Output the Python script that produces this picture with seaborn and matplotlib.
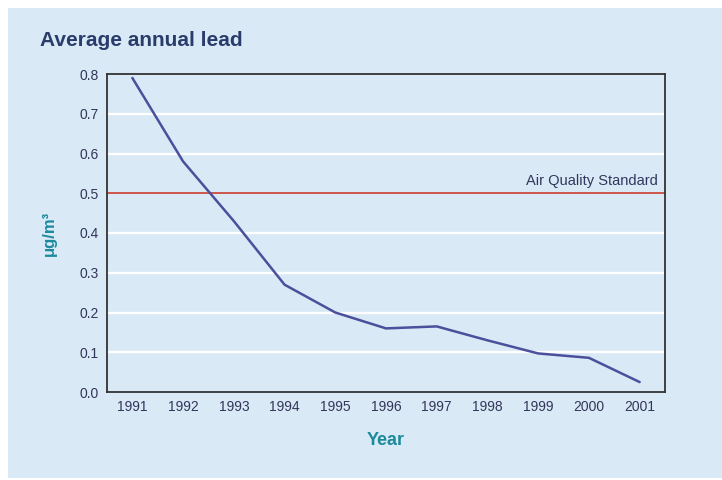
import matplotlib
matplotlib.use("Agg")
import matplotlib.pyplot as plt
import seaborn as sns
import pandas as pd
from matplotlib.patches import Rectangle

years = [1991, 1992, 1993, 1994, 1995, 1996, 1997, 1998, 1999, 2000, 2001]
lead = [0.79, 0.58, 0.43, 0.27, 0.20, 0.16, 0.165, 0.13, 0.097, 0.086, 0.025]
yticks = [0.0, 0.1, 0.2, 0.3, 0.4, 0.5, 0.6, 0.7, 0.8]
standard = 0.5

sns.set_theme(style="white")
plt.rcParams['font.family'] = ['Liberation Sans', 'DejaVu Sans']

bg = "#d9eaf6"
fig = plt.figure(figsize=(7.22, 4.8), dpi=100)
fig.patch.set_facecolor("white")
fig.patches.append(Rectangle((8/722, 2/480), 1 - 8/722, 1 - 10/480,
                             transform=fig.transFigure, facecolor=bg,
                             edgecolor="none", zorder=-5))

ax = fig.add_axes([107/722, 88/480, 558/722, 318/480])
ax.set_zorder(2)
ax.set_facecolor(bg)

df = pd.DataFrame({"Year": years, "lead": lead})
for v in yticks[1:-1]:
    if v != standard:
        ax.axhline(v, color="white", lw=1.6, zorder=1)
ax.axhline(standard, color="#cc4a3e", lw=1.3, zorder=2)
sns.lineplot(data=df, x="Year", y="lead", ax=ax, color="#4b4f9c", lw=1.8, zorder=3)

ax.set_xlim(1990.5, 2001.5)
ax.set_ylim(0, 0.8)
ax.set_xticks(years)
ax.set_xticklabels([str(y) for y in years])
ax.set_yticks(yticks)
ax.set_yticklabels([f"{v:.1f}" for v in yticks])
ax.tick_params(axis="both", length=0, labelsize=10, colors="#33355a", pad=6)

for s in ax.spines.values():
    s.set_color("#333333")
    s.set_linewidth(1.3)

ax.set_xlabel("Year", color="#1b8a9c", fontsize=13, fontweight="bold", labelpad=13)
ax.set_ylabel("μg/m³", color="#1b8a9c", fontsize=12, fontweight="bold", labelpad=16)

ax.text(2001.35, standard + 0.012, "Air Quality Standard", ha="right", va="bottom",
        fontsize=10.5, color="#33365e")

fig.text(40/722, 1 - 40/480, "Average annual lead", ha="left", va="center",
         fontsize=15, color="#2a3c6b", fontweight="bold")

fig.savefig("out.png", dpi=100, facecolor=fig.get_facecolor())
